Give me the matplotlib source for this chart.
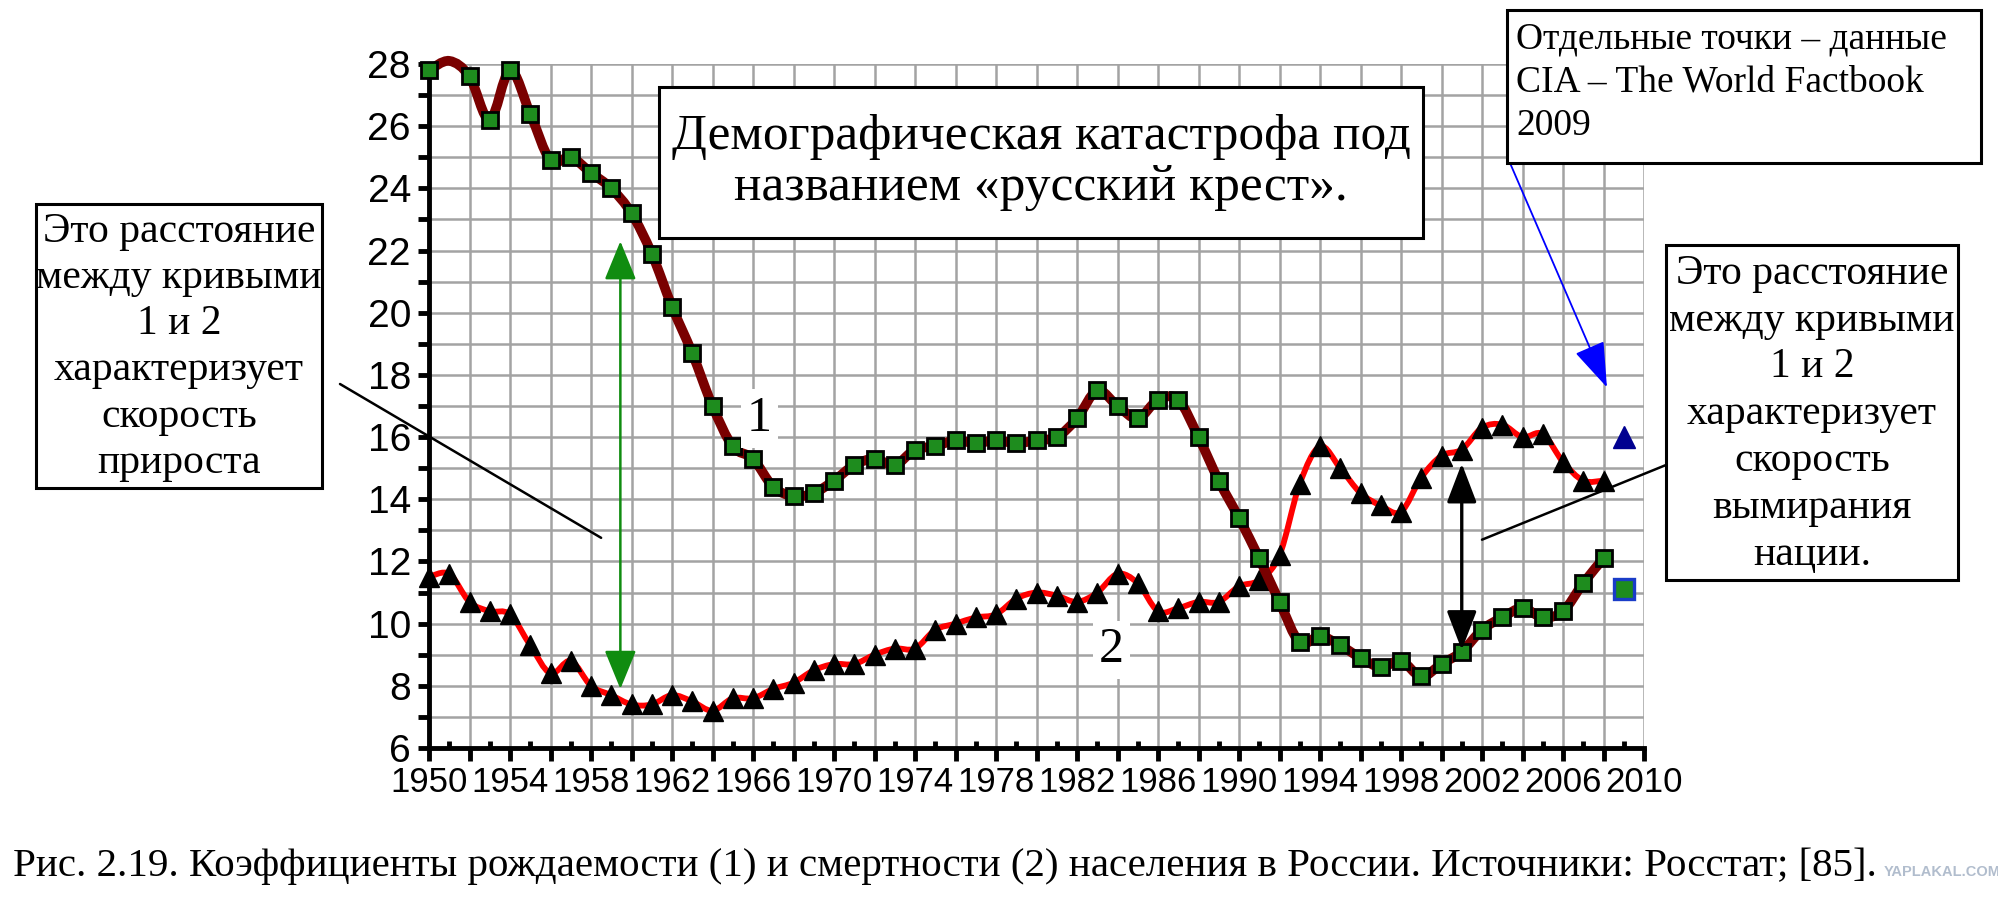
import numpy as np
import matplotlib
matplotlib.use("Agg")
import matplotlib.pyplot as plt
from matplotlib.path import Path
from matplotlib.patches import PathPatch, Rectangle
from matplotlib.ticker import MultipleLocator, FuncFormatter

# ---------------- data ----------------
years = list(range(1950, 2009))
birth_rate = [27.8, 28.1, 27.6, 26.2, 27.8, 26.4, 24.9, 25.0, 24.5, 24.0,
              23.2, 21.9, 20.2, 18.7, 17.0, 15.7, 15.3, 14.4, 14.1, 14.2,
              14.6, 15.1, 15.3, 15.1, 15.6, 15.7, 15.9, 15.8, 15.9, 15.8,
              15.9, 16.0, 16.6, 17.5, 17.0, 16.6, 17.2, 17.2, 16.0, 14.6,
              13.4, 12.1, 10.7, 9.4, 9.6, 9.3, 8.9, 8.6, 8.8, 8.3,
              8.7, 9.1, 9.8, 10.2, 10.5, 10.2, 10.4, 11.3, 12.1]
death_rate = [11.5, 11.6, 10.7, 10.4, 10.3, 9.3, 8.4, 8.8, 8.0, 7.7,
              7.4, 7.4, 7.7, 7.5, 7.2, 7.6, 7.6, 7.9, 8.1, 8.5,
              8.7, 8.7, 9.0, 9.2, 9.2, 9.8, 10.0, 10.2, 10.3, 10.8,
              11.0, 10.9, 10.7, 11.0, 11.6, 11.3, 10.4, 10.5, 10.7, 10.7,
              11.2, 11.4, 12.2, 14.5, 15.7, 15.0, 14.2, 13.8, 13.6, 14.7,
              15.4, 15.6, 16.3, 16.4, 16.0, 16.1, 15.2, 14.6, 14.6]
birth_no_marker_years = [1951]
cia_year = 2009
cia_birth = 11.1
cia_death = 16.0
x_tick_labels = [str(y) for y in range(1950, 2011, 4)]

# ---------------- helpers ----------------
W, H = 1998, 899
def fx(px):
    return px / W
def fy(py):
    return 1 - py / H

def smooth_path(x, y):
    x = np.asarray(x, float); y = np.asarray(y, float)
    n = len(x)
    verts = [(x[0], y[0])]
    codes = [Path.MOVETO]
    for i in range(n - 1):
        i0 = max(i - 1, 0); i3 = min(i + 2, n - 1)
        c1 = (x[i] + (x[i + 1] - x[i0]) / 6, y[i] + (y[i + 1] - y[i0]) / 6)
        c2 = (x[i + 1] - (x[i3] - x[i]) / 6, y[i + 1] - (y[i3] - y[i]) / 6)
        verts += [c1, c2, (x[i + 1], y[i + 1])]
        codes += [Path.CURVE4] * 3
    return Path(verts, codes)

SERIF = ["Liberation Serif", "DejaVu Serif"]
SANS = ["Liberation Sans", "DejaVu Sans"]

fig = plt.figure(figsize=(W / 100, H / 100), dpi=100)
fig.patch.set_facecolor("white")
ax = fig.add_axes([fx(429), fy(748), fx(1644) - fx(429), fy(64) - fy(748)])
ax.set_xlim(1950, 2010)
ax.set_ylim(6, 28)

# ticks / grid
ax.xaxis.set_major_locator(MultipleLocator(2))
ax.xaxis.set_minor_locator(MultipleLocator(1))
lab_map = {int(s): s for s in x_tick_labels}
ax.xaxis.set_major_formatter(FuncFormatter(lambda v, p: lab_map.get(int(round(v)), "")))
ax.yaxis.set_major_locator(MultipleLocator(2))
ax.yaxis.set_minor_locator(MultipleLocator(1))
ax.yaxis.set_major_formatter(FuncFormatter(lambda v, p: "%d" % round(v)))

ax.set_axisbelow(True)
ax.grid(which="major", axis="x", color="#a3a3a3", lw=1.8)
ax.grid(which="both", axis="y", color="#a3a3a3", lw=1.8)

for s in ["top", "right"]:
    ax.spines[s].set_visible(False)
for s in ["left", "bottom"]:
    ax.spines[s].set_linewidth(3.5)
    ax.spines[s].set_color("black")

ax.tick_params(axis="x", which="major", direction="out", length=9, width=3.5,
               pad=4, labelsize=25)
ax.tick_params(axis="x", which="minor", direction="in", length=5, width=3.5)
ax.tick_params(axis="y", which="both", direction="out", length=8, width=3.5,
               pad=5, labelsize=28)
for lab in ax.get_xticklabels() + ax.get_yticklabels():
    lab.set_family(SANS)

# curves
ax.add_patch(PathPatch(smooth_path(years, death_rate), fill=False,
                       edgecolor="#ff0000", lw=4.2, zorder=3, capstyle="round"))
ax.plot(years, death_rate, ls="none", marker="^", ms=14, mfc="black",
        mec="black", zorder=4, clip_on=False)
ax.add_patch(PathPatch(smooth_path(years, birth_rate), fill=False,
                       edgecolor="#7a0000", lw=7, zorder=5, capstyle="round",
                       clip_on=False))
bmark = [i for i, y in enumerate(years) if y not in birth_no_marker_years]
ax.plot(years, birth_rate, ls="none", marker="s", ms=11.5, mfc="#1e8c1e",
        mec="black", mew=2.0, markevery=bmark, zorder=6, clip_on=False)

# CIA points
ax.plot([cia_year], [cia_death], ls="none", marker="^", ms=16, mfc="#000090",
        mec="#000090", zorder=6, clip_on=False)
ax.plot([cia_year], [cia_birth], ls="none", marker="s", ms=14, mfc="#1e8c1e",
        mec="#1a3cc8", mew=2.4, zorder=6, clip_on=False)

# curve labels
ax.text(1966.3, 16.6, "1", fontsize=36, family=SERIF, ha="center", va="center",
        zorder=7, bbox=dict(boxstyle="square,pad=0.12", fc="white", ec="none"))
ax.text(1983.7, 9.15, "2", fontsize=36, family=SERIF, ha="center", va="center",
        zorder=7, bbox=dict(boxstyle="square,pad=0.12", fc="white", ec="none"))

# double arrows
ax.annotate("", xy=(1959.45, 22.3), xytext=(1959.45, 7.9), zorder=7,
            arrowprops=dict(arrowstyle="<|-|>,head_length=1.1,head_width=0.45",
                            color="#108c10", lw=1.8, shrinkA=0, shrinkB=0,
                            mutation_scale=22))
ax.annotate("", xy=(2001.0, 15.15), xytext=(2001.0, 9.15), zorder=7,
            arrowprops=dict(arrowstyle="<|-|>,head_length=1.1,head_width=0.42",
                            color="black", lw=2.4, shrinkA=0, shrinkB=0,
                            mutation_scale=22))

# leader lines
ax.annotate("", xy=(1958.5, 12.76), xycoords="data",
            xytext=(fx(340), fy(384)), textcoords="figure fraction",
            arrowprops=dict(arrowstyle="-", color="black", lw=1.8,
                            shrinkA=0, shrinkB=0), annotation_clip=False)
ax.annotate("", xy=(2002.0, 12.7), xycoords="data",
            xytext=(fx(1666), fy(465)), textcoords="figure fraction",
            arrowprops=dict(arrowstyle="-", color="black", lw=1.8,
                            shrinkA=0, shrinkB=0), annotation_clip=False)
ax.annotate("", xy=(2008.17, 17.6), xycoords="data",
            xytext=(fx(1510), fy(163)), textcoords="figure fraction",
            arrowprops=dict(arrowstyle="-|>,head_length=1.3,head_width=0.45",
                            color="#0000ff", lw=1.3, shrinkA=0, shrinkB=0,
                            mutation_scale=22), annotation_clip=False, zorder=8)

# boxes
def box(x0, y0, x1, y1):
    r = Rectangle((fx(x0), fy(y1)), fx(x1) - fx(x0), fy(y0) - fy(y1),
                  transform=fig.transFigure, facecolor="white",
                  edgecolor="black", lw=2.2, zorder=5)
    fig.add_artist(r)

box(659, 87, 1423, 238)
fig.text(fx(1041), fy(162), "Демографическая катастрофа под\nназванием «русский крест».",
         fontsize=37, family=SERIF, ha="center", va="center", linespacing=1.12,
         zorder=6)
box(36, 204, 322, 488)
fig.text(fx(179), fy(347), "Это расстояние\nмежду кривыми\n1 и 2\nхарактеризует\nскорость\nприроста",
         fontsize=30, family=SERIF, ha="center", va="center", linespacing=1.26,
         zorder=6)
box(1666, 245, 1958, 580)
fig.text(fx(1812), fy(414), "Это расстояние\nмежду кривыми\n1 и 2\nхарактеризует\nскорость\nвымирания\nнации.",
         fontsize=30, family=SERIF, ha="center", va="center", linespacing=1.28,
         zorder=6)
box(1507, 10, 1981, 163)
fig.text(fx(1516), fy(22), "Отдельные точки – данные\nCIA – The World Factbook\n2009",
         fontsize=27, family=SERIF, ha="left", va="top", linespacing=1.33,
         zorder=6)

# caption
fig.text(fx(13), fy(866), "Рис. 2.19. Коэффициенты рождаемости (1) и смертности (2) населения в России. Источники: Росстат; [85].",
         fontsize=29.5, family=SERIF, ha="left", va="center")
fig.text(fx(1942), fy(872), "YAPLAKAL.COM", fontsize=10.5, fontweight="bold",
         family=SANS, color="#a9b6c8", ha="center", va="center", alpha=0.9)

fig.savefig("out.png", dpi=100)
